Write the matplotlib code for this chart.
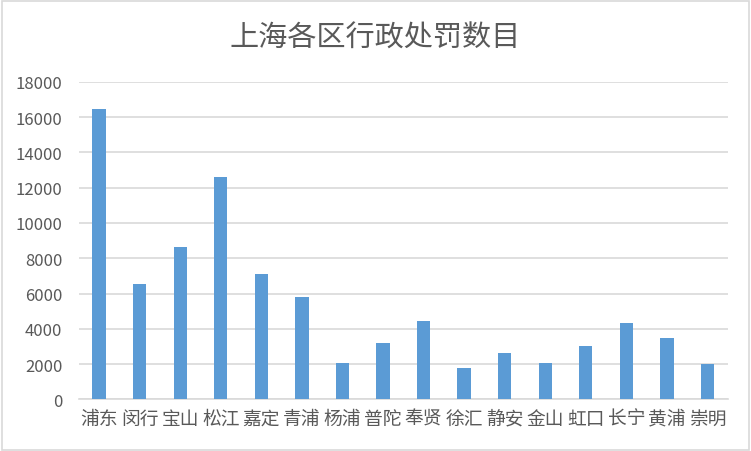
import matplotlib
matplotlib.use("Agg")
import matplotlib.pyplot as plt
from matplotlib.patches import Rectangle

plt.rcParams['font.family'] = ['Noto Sans CJK SC', 'DejaVu Sans']

districts = ['浦东', '闵行', '宝山', '松江', '嘉定', '青浦', '杨浦', '普陀',
             '奉贤', '徐汇', '静安', '金山', '虹口', '长宁', '黄浦', '崇明']
counts = [16450, 6550, 8640, 12600, 7110, 5810, 2070, 3200,
          4440, 1770, 2640, 2060, 3020, 4320, 3470, 2000]
yticks = [0, 2000, 4000, 6000, 8000, 10000, 12000, 14000, 16000, 18000]

fig = plt.figure(figsize=(7.51, 4.52), dpi=100)
ax = fig.add_axes([0.105, 0.114, 0.864, 0.703])

x = range(len(districts))
ax.bar(x, counts, width=0.33, color='#5B9BD5', zorder=3)

ax.set_xlim(-0.5, len(districts) - 0.5)
ax.set_ylim(0, 18000)
ax.set_yticks(yticks)
ax.set_xticks(list(x))
ax.set_xticklabels(districts, fontsize=13.5, color='#595959')
ax.tick_params(axis='y', labelsize=12, colors='#595959', length=0, pad=12)
ax.tick_params(axis='x', length=0, pad=6)
ax.grid(axis='y', color='#D9D9D9', linewidth=1.2, zorder=0)
for s in ['top', 'right', 'left']:
    ax.spines[s].set_visible(False)
ax.spines['bottom'].set_color('#D9D9D9')
ax.spines['bottom'].set_linewidth(1.2)

fig.text(0.5, 0.915, '上海各区行政处罚数目', ha='center', va='center',
         fontsize=21, color='#595959')

fig.patches.append(Rectangle((0.002, 0.003), 0.995, 0.993, transform=fig.transFigure,
                             fill=False, edgecolor='#D9D9D9', linewidth=1.2))

fig.savefig('out.png', dpi=100)
